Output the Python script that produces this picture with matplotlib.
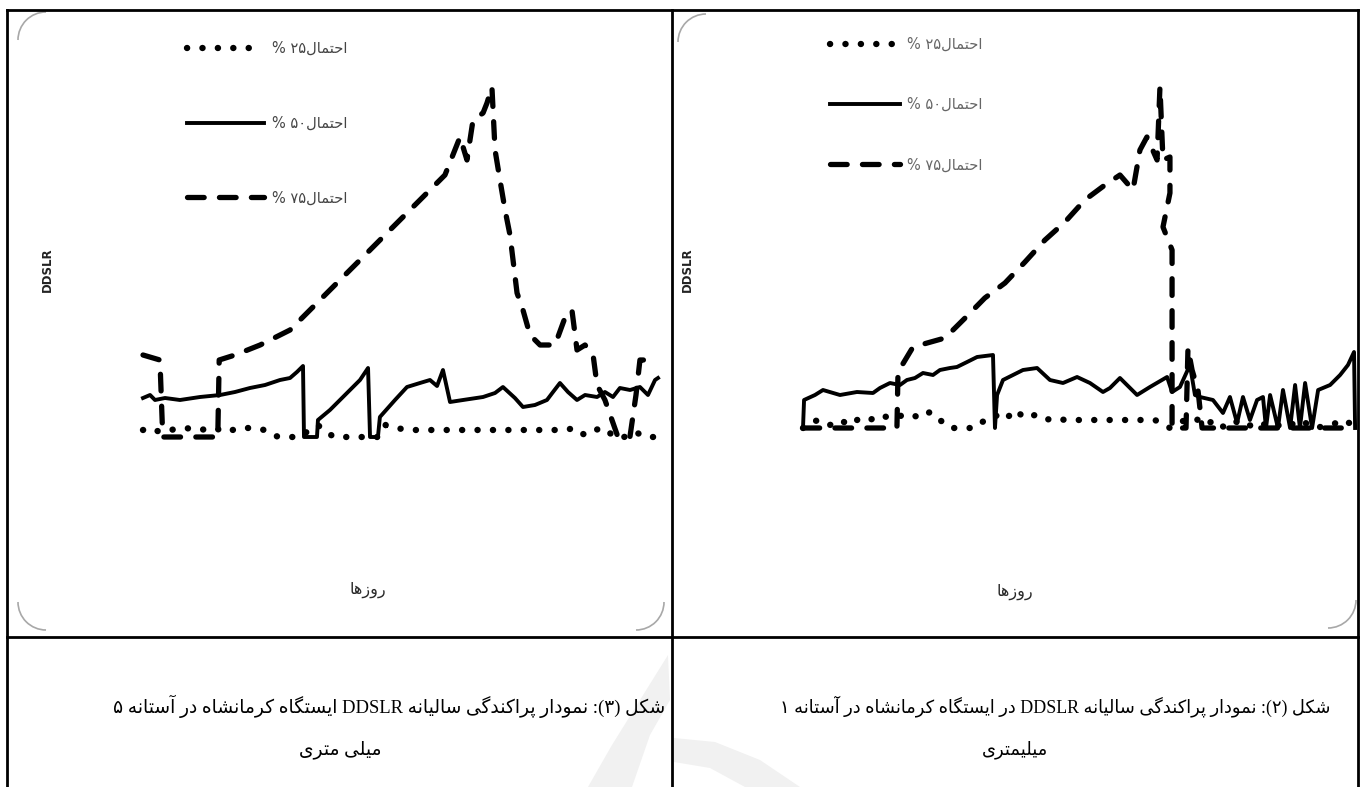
import re
import matplotlib
matplotlib.use("Agg")
import matplotlib.pyplot as plt
from matplotlib.patches import Arc, Polygon

plt.rcParams['lines.scale_dashes'] = False

# ---------------- data (days of year, DDSLR) ----------------
# Left panel: threshold 5 mm
l_days_25 = [0, 5, 12, 19, 30, 40, 51, 58, 69, 79, 86, 91, 97, 104, 111, 118, 124, 129, 136, 143, 150, 157, 167,
             172, 179, 189, 203, 218, 232, 246, 260, 274, 288, 299, 306, 313, 320, 327, 334, 341, 349, 356, 365]
l_vals_25 = [1.4, 1.8, 1, 1.4, 1.8, 1.4, 1.8, 1, 1.8, 1.8, 1.4, 0.4, 0, 0, 0, 1.4, 2.4, 1, 0, 0, 0, 0, 0,
             2.4, 1.8, 1.4, 1.4, 1.4, 1.4, 1.4, 1.4, 1.4, 1.4, 1.4, 1.8, 0.4, 1.4, 1.8, 0, 0, 1, 0, 0]
l_days_50 = [0, 5, 8.5, 15.6, 26.2, 40.4, 54.6, 65.2, 75.8, 86.5, 97.1, 104.2, 109.1, 113.4, 114.1, 123.3, 124,
             132.5, 139.6, 146.7, 153.8, 159.5, 160.9, 166.5, 167.9, 178.6, 187.1, 196.3, 203.4, 208.4, 212.6,
             217.6, 226.8, 241, 249.5, 255.1, 263.6, 269.3, 277.8, 286.3, 290.6, 295.5, 301.2, 307.6, 313.3,
             321.8, 327.4, 333.1, 338, 345.2, 352.2, 357.9, 362.9, 365]
l_vals_50 = [7.8, 8.4, 7.4, 7.8, 7.4, 8, 8.4, 9, 9.8, 10.4, 11.4, 11.8, 13, 14.2, 0, 0, 3.4,
             5.4, 7.4, 9.4, 11.4, 13.8, 0, 0, 4, 7.4, 10, 10.8, 11.4, 10.2, 13.4,
             7, 7.4, 8, 8.8, 10, 7.8, 6, 6.4, 7.4, 9, 10.8, 9, 7.4, 8.4,
             8, 9, 8, 9.8, 9.4, 10, 8.4, 11.4, 11.8]
l_days_75 = [0, 12, 14, 53, 54, 65.2, 83, 104.2, 132.5, 160.9, 189.2, 214, 224.7, 229.6, 233.9, 241, 243.8,
             247.3, 249.5, 253, 256.6, 260.1, 265.1, 269.3, 274.3, 281.4, 292, 299, 304, 307.6, 313.3, 319,
             321.8, 327.4, 336.6, 345.1, 349.4, 352.2, 359.3, 365]
l_vals_75 = [16.4, 15.4, 0, 0, 15.4, 16.4, 18.4, 21.4, 29.4, 37.4, 45.4, 52.4, 60, 55.4, 63.4, 64.8, 66.8,
             70, 57.4, 51.4, 45.4, 40.4, 28.8, 25.4, 20.4, 18.4, 18.4, 23.8, 25.4, 17.4, 18.4, 16.4,
             10.4, 7.4, 0, 0, 8.4, 15.4, 15.4, 15.8]

# Right panel: threshold 1 mm
r_days_25 = [0, 4.6, 11.2, 17.8, 24.4, 31, 37.6, 44.2, 50.8, 57.4, 64, 70.6, 77.2, 83.8, 90.4, 97, 103.6, 113.5,
             120.1, 126.7, 133.3, 139.9, 146.5, 153.1, 159.7, 166.3, 172.9, 182.8, 192.7, 202.6, 212.5, 222.4,
             232.3, 242.2, 252.1, 258.7, 265.3, 271.9, 278.5, 288.4, 298.3, 308.3, 318.2, 328, 338, 347.9, 357.8, 365]
r_vals_25 = [0, 1.2, 1.6, 0.6, 1.6, 0.6, 2, 1.6, 2.6, 2, 2.4, 2.8, 2, 3.2, 1.6, 0, 0, 0,
             1.6, 2.6, 1.6, 3.6, 2, 2.6, 1.6, 2, 1.6, 1.6, 1.6, 1.6, 1.6, 1.6,
             1.6, 0, 1.6, 2, 0.6, 1.6, 0, 1.6, 0, 1.2, 0, 1.6, 0, 0.6, 1.6, 0]
r_days_50 = [0, 0.7, 7.9, 13.2, 24.4, 35.6, 46.2, 50.8, 57.4, 64, 68.6, 73.9, 79.2, 85.8, 90.4, 97, 101.6, 108.3,
             114.9, 125.4, 126.7, 128.1, 132, 138.6, 145.2, 154.5, 163, 171.6, 180.9, 189.4, 198, 202.6, 209.2,
             220.5, 229, 240.3, 243.6, 248.8, 255.4, 258.7, 262, 270.6, 277.2, 281.8, 286.5, 290.4, 295, 299.7,
             303.6, 305.6, 308.3, 313.5, 316.8, 321.5, 324.8, 328, 331.4, 336, 340, 347.9, 354.5, 359.7, 363.7, 364.4]
r_vals_50 = [0, 5.6, 6.6, 7.6, 6.6, 7.2, 7, 8, 9, 8.6, 9.6, 10, 11, 10.6, 11.6, 12, 12.2, 13.2,
             14.2, 14.6, 0, 6.6, 9.6, 10.6, 11.6, 12, 9.6, 9, 10.2, 9, 7.2, 8, 10,
             6.6, 8.2, 10.2, 7.2, 8.2, 12.6, 6.6, 6.2, 5.6, 3, 6.2, 1, 6.2, 1.6, 5.6,
             6.2, 0, 6.6, 0, 7.6, 0, 8.6, 0, 9, 0, 7.6, 8.6, 10.6, 12.6, 15.2, 0]
r_days_75 = [0, 62, 62.7, 72.6, 93.7, 107, 120, 133.3, 146.5, 159.7, 172.9, 186, 199.3, 209.2, 217.8, 222.4,
             227, 233.7, 235.6, 237.6, 242.2, 242.2, 237.6, 243.6, 243.6, 243.6, 252.8, 254.1, 256.8, 260.7,
             263.4, 365]
r_vals_75 = [0, 0, 11.2, 16.2, 18, 22, 26, 29, 33.2, 37.6, 41.2, 45.6, 48.6, 50.6, 47.6, 55.6,
             58.2, 53.6, 68.2, 53.6, 54.2, 47, 40.2, 35.6, 17.6, 0, 0, 16, 11.6, 7.6,
             0, 0]

legend_labels = ['احتمال۲۵ %', 'احتمال۵۰ %', 'احتمال۷۵ %']
y_label = 'DDSLR'
x_label = 'روزها'
left_caption = ['شکل (۳): نمودار پراکندگی سالیانه DDSLR ایستگاه کرمانشاه در آستانه ۵', 'میلی متری']
right_caption = ['شکل (۲): نمودار پراکندگی سالیانه DDSLR در ایستگاه کرمانشاه در آستانه ۱', 'میلیمتری']

# ---------------- minimal Persian shaping (presentation forms) ----------------
FORMS = {
    'ا': ('\uFE8D', '\uFE8E', None, None), 'آ': ('\uFE81', '\uFE82', None, None),
    'پ': ('\uFB56', '\uFB57', '\uFB58', '\uFB59'), 'ت': ('\uFE95', '\uFE96', '\uFE97', '\uFE98'),
    'ح': ('\uFEA1', '\uFEA2', '\uFEA3', '\uFEA4'), 'د': ('\uFEA9', '\uFEAA', None, None),
    'ر': ('\uFEAD', '\uFEAE', None, None), 'ز': ('\uFEAF', '\uFEB0', None, None),
    'س': ('\uFEB1', '\uFEB2', '\uFEB3', '\uFEB4'), 'ش': ('\uFEB5', '\uFEB6', '\uFEB7', '\uFEB8'),
    'ک': ('\uFB8E', '\uFB8F', '\uFB90', '\uFB91'), 'گ': ('\uFB92', '\uFB93', '\uFB94', '\uFB95'),
    'ل': ('\uFEDD', '\uFEDE', '\uFEDF', '\uFEE0'), 'م': ('\uFEE1', '\uFEE2', '\uFEE3', '\uFEE4'),
    'ن': ('\uFEE5', '\uFEE6', '\uFEE7', '\uFEE8'), 'ه': ('\uFEE9', '\uFEEA', '\uFEEB', '\uFEEC'),
    'و': ('\uFEED', '\uFEEE', None, None), 'ی': ('\uFBFC', '\uFBFD', '\uFBFE', '\uFBFF'),
}


def shape(s):
    out = []
    for i, c in enumerate(s):
        if c not in FORMS:
            out.append(c)
            continue
        f = FORMS[c]
        prev = s[i - 1] if i > 0 else ''
        nxt = s[i + 1] if i < len(s) - 1 else ''
        pj = prev in FORMS and FORMS[prev][2] is not None
        nj = f[2] is not None and nxt in FORMS
        if pj and nj:
            out.append(f[3])
        elif pj:
            out.append(f[1])
        elif nj:
            out.append(f[2])
        else:
            out.append(f[0])
    return ''.join(out)


LTR = r'[A-Za-z0-9\u06F0-\u06F9]'


def visual(s):
    s = shape(s)
    runs = re.findall(LTR + r'+|[^A-Za-z0-9\u06F0-\u06F9]+', s)
    mirror = str.maketrans('()', ')(')
    res = []
    for r in reversed(runs):
        if re.match(LTR, r):
            res.append(r)
        else:
            res.append(r[::-1].translate(mirror))
    return ''.join(res)


# ---------------- figure ----------------
W, H = 1362, 787
fig = plt.figure(figsize=(W / 100, H / 100), dpi=100)
fig.patch.set_facecolor('white')


def fx(px):
    return px / W


def fy(py):
    return 1 - py / H


# background / table frame layer
bg = fig.add_axes([0, 0, 1, 1], zorder=0)
bg.set_xlim(0, W)
bg.set_ylim(H, 0)
bg.axis('off')
# faint watermark
bg.add_patch(Polygon([(588, 787), (612, 745), (640, 700), (668, 655), (670, 700), (650, 735), (632, 787)],
                     closed=True, facecolor='#f1f1f1', edgecolor='none'))
bg.add_patch(Polygon([(674, 738), (715, 742), (760, 760), (800, 787), (745, 787), (710, 768), (674, 762)],
                     closed=True, facecolor='#f1f1f1', edgecolor='none'))
lw_t = 2.0
bg.plot([7, 1358], [10, 10], color='black', lw=lw_t)
bg.plot([7, 1358], [637, 637], color='black', lw=lw_t)
for xv in (7, 672, 1358):
    bg.plot([xv, xv], [10, H], color='black', lw=lw_t)
# faint rounded-corner traces of the chart frames
arc_kw = dict(color='#a8a8a8', lw=1.2)
for (cx, cy, t1, t2) in [(46, 40, 180, 270), (46, 602, 90, 180), (636, 602, 0, 90),
                          (706, 42, 180, 270), (1328, 600, 0, 90)]:
    bg.add_patch(Arc((cx, cy), 56, 56, theta1=t1, theta2=t2, **arc_kw))

AR = ['DejaVu Sans']
SERIF_AR = ['Liberation Serif', 'DejaVu Sans']


def panel(px0, px1, base, d25, v25, d50, v50, d75, v75, leg_anchor, leg_space, hlen, leg_color,
          ylab_x, xlab_xy, cap, cap_right, cap_size, cap2_x):
    ax = fig.add_axes([fx(px0), fy(base), (px1 - px0) / W, 400 / H], zorder=2)
    ax.set_xlim(0, 365)
    ax.set_ylim(0, 80)
    ax.axis('off')
    l75, = ax.plot(d75, v75, color='black', lw=3.8, linestyle=(0, (12, 11)),
                   dash_capstyle='round', clip_on=False)
    l50, = ax.plot(d50, v50, color='black', lw=2.8, solid_joinstyle='round', clip_on=False)
    l25, = ax.plot(d25, v25, color='black', lw=4.6, linestyle=(0, (0.1, 11)),
                   dash_capstyle='round', clip_on=False)
    leg = ax.legend([l25, l50, l75], [visual(t) for t in legend_labels],
                    loc='upper left', bbox_to_anchor=(fx(leg_anchor[0]), fy(leg_anchor[1])),
                    bbox_transform=fig.transFigure, frameon=False, handlelength=hlen,
                    handletextpad=0.5, labelspacing=leg_space, borderpad=0, borderaxespad=0,
                    prop={'family': AR, 'size': 10.5})
    for t in leg.get_texts():
        t.set_color(leg_color)
    fig.text(fx(ylab_x), fy(270), y_label, rotation=90, ha='center', va='center',
             fontsize=8.5, fontweight='bold', family='DejaVu Sans', color='#222222')
    fig.text(fx(xlab_xy[0]), fy(xlab_xy[1]), visual(x_label), ha='center', va='center',
             fontsize=11.5, family=AR, color='#2a2a2a')
    fig.text(fx(cap_right), fy(706), visual(cap[0]), ha='right', va='center',
             fontsize=cap_size, family=SERIF_AR, color='black')
    fig.text(fx(cap2_x), fy(750), visual(cap[1]), ha='center', va='center',
             fontsize=cap_size, family=SERIF_AR, color='black')
    return ax


panel(143, 658, 437, l_days_25, l_vals_25, l_days_50, l_vals_50, l_days_75, l_vals_75,
      (187, 41), 4.1, 5.3, '#444444', 47, (368, 590), left_caption, 665, 13.4, 340)
panel(803, 1356, 428, r_days_25, r_vals_25, r_days_50, r_vals_50, r_days_75, r_vals_75,
      (830, 37), 3.1, 4.8, '#666666', 687, (1015, 592), right_caption, 1330, 12.9, 1015)

fig.savefig('out.png', dpi=100, facecolor='white')
